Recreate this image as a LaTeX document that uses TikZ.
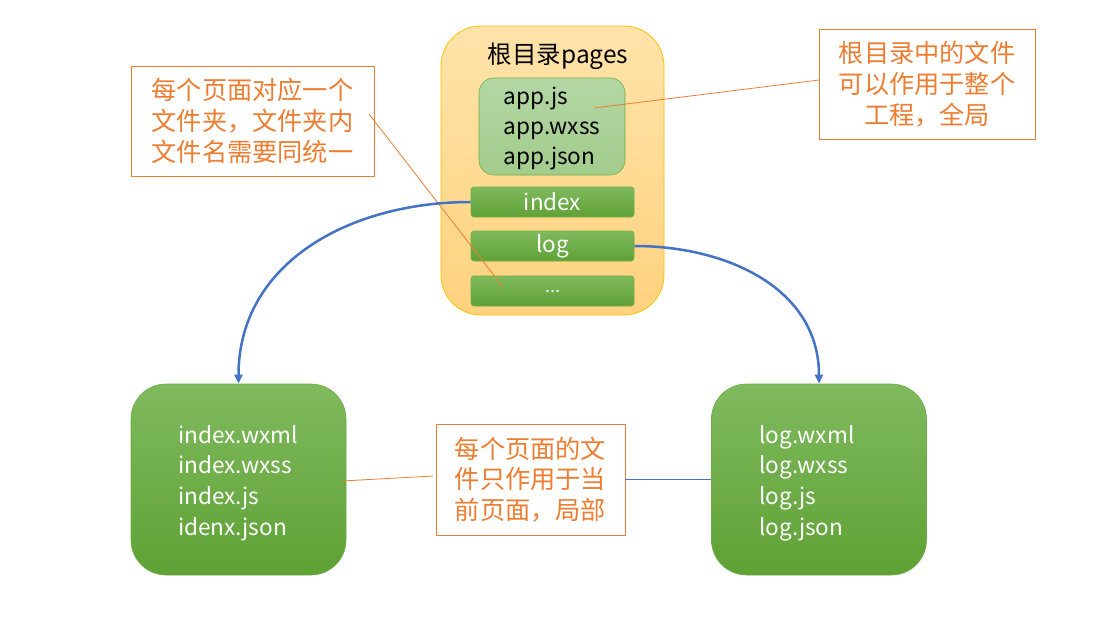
\documentclass[tikz,border=0pt]{standalone}
\usepackage{fontspec}
\setmainfont{Noto Sans CJK SC}
\usetikzlibrary{arrows.meta}
\definecolor{orn}{HTML}{ED7D31}
\definecolor{blu}{HTML}{4472C4}
\definecolor{gtop}{HTML}{7FBA5E}
\definecolor{gbot}{HTML}{5FA135}
\definecolor{gline}{HTML}{6EAE46}
\definecolor{ltop}{HTML}{B4D7A4}
\definecolor{lbot}{HTML}{A2CC8C}
\definecolor{otop}{HTML}{FFE3AA}
\definecolor{obot}{HTML}{FFD27E}
\definecolor{oline}{HTML}{FFC000}
\tikzset{
  notebox/.style={draw=orn, line width=0.9pt, fill=white, inner sep=0pt, align=center, text=orn,
    font=\fontsize{25.2}{30.7}\selectfont},
  greenbar/.style={draw=gline, line width=0.6pt, rounded corners=3pt, top color=gtop, bottom color=gbot,
    minimum width=163pt, minimum height=30pt, inner sep=0pt, text=white, font=\fontsize{22.5}{26}\selectfont},
  bigbox/.style={draw=gline, line width=0.6pt, rounded corners=35pt, top color=gtop, bottom color=gbot,
    minimum width=215pt, minimum height=191pt, inner sep=0pt},
  filetext/.style={align=left, text=white, inner sep=0pt, font=\fontsize{22.6}{30.7}\selectfont},
  orline/.style={draw=orn, line width=0.8pt},
  bluecurve/.style={draw=blu, line width=2.5pt, -{Triangle[length=9pt,width=8pt]}},
}
\begin{document}
\begin{tikzpicture}[x=1pt,y=-1pt]
\useasboundingbox[fill=white] (0,0) rectangle (1114,632);

% root container
\node[draw=oline, line width=0.8pt, rounded corners=40pt, top color=otop, bottom color=obot,
      minimum width=223pt, minimum height=289pt, inner sep=0pt] (root) at (552.5,170.5) {};
\node[font=\fontsize{24.5}{28}\selectfont, inner sep=0pt] (title) at (558,56) {根目录pages};

% app box
\node[draw=gline, line width=0.6pt, rounded corners=15pt, top color=ltop, bottom color=lbot,
      minimum width=146pt, minimum height=97pt, inner sep=0pt] (app) at (552,126.5) {};
\node[align=left, inner sep=0pt, font=\fontsize{22.6}{30}\selectfont] (appt) at (552,128) {app.js\\app.wxss\\app.json};

% bars
\node[greenbar] (index) at (552.5,202) {index};
\node[greenbar] (log) at (552.5,246) {log};
\node[greenbar, font=\fontsize{18}{20}\selectfont] (dots) at (552.5,291) {...};

% notes
\node[notebox, minimum width=243pt, minimum height=110pt] (lnote) at (252.5,121)
  {每个页面对应一个\\文件夹，文件夹内\\文件名需要同统一};
\node[notebox, minimum width=216pt, minimum height=110pt] (rnote) at (927,84)
  {根目录中的文件\\可以作用于整个\\工程，全局};

% big boxes
\node[bigbox] (lbox) at (238.5,479.5) {};
\node[bigbox] (rbox) at (819,479.5) {};
\node[filetext, anchor=west] (lboxt) at (178,483) {index.wxml\\index.wxss\\index.js\\idenx.json};
\node[filetext, anchor=west] (rboxt) at (759,483) {log.wxml\\log.wxss\\log.js\\log.json};

% connectors
\coordinate (c1) at (594,108);
\coordinate (c1e) at (819,80);
\draw[orline] (c1) -- (c1e);
\coordinate (c2) at (369,114);
\coordinate (c3) at (503,287);
\draw[orline] (c2) -- (c3);
\coordinate (c4) at (342,481);
\coordinate (c5) at (433,476);
\draw[orline] (c4) -- (c5);

\node[notebox, minimum width=189pt, minimum height=111pt] (mnote) at (530.5,479.5)
  {每个页面的文\\件只作用于当\\前页面，局部};
\draw[blu, line width=1pt] (mnote.east) -- (rbox.west);

\draw[bluecurve] (index.west) to[out=180, in=90, looseness=1.05] (lbox.north);
\draw[bluecurve] (log.east) to[out=0, in=90, looseness=1.05] (rbox.north);
\end{tikzpicture}
\end{document}
